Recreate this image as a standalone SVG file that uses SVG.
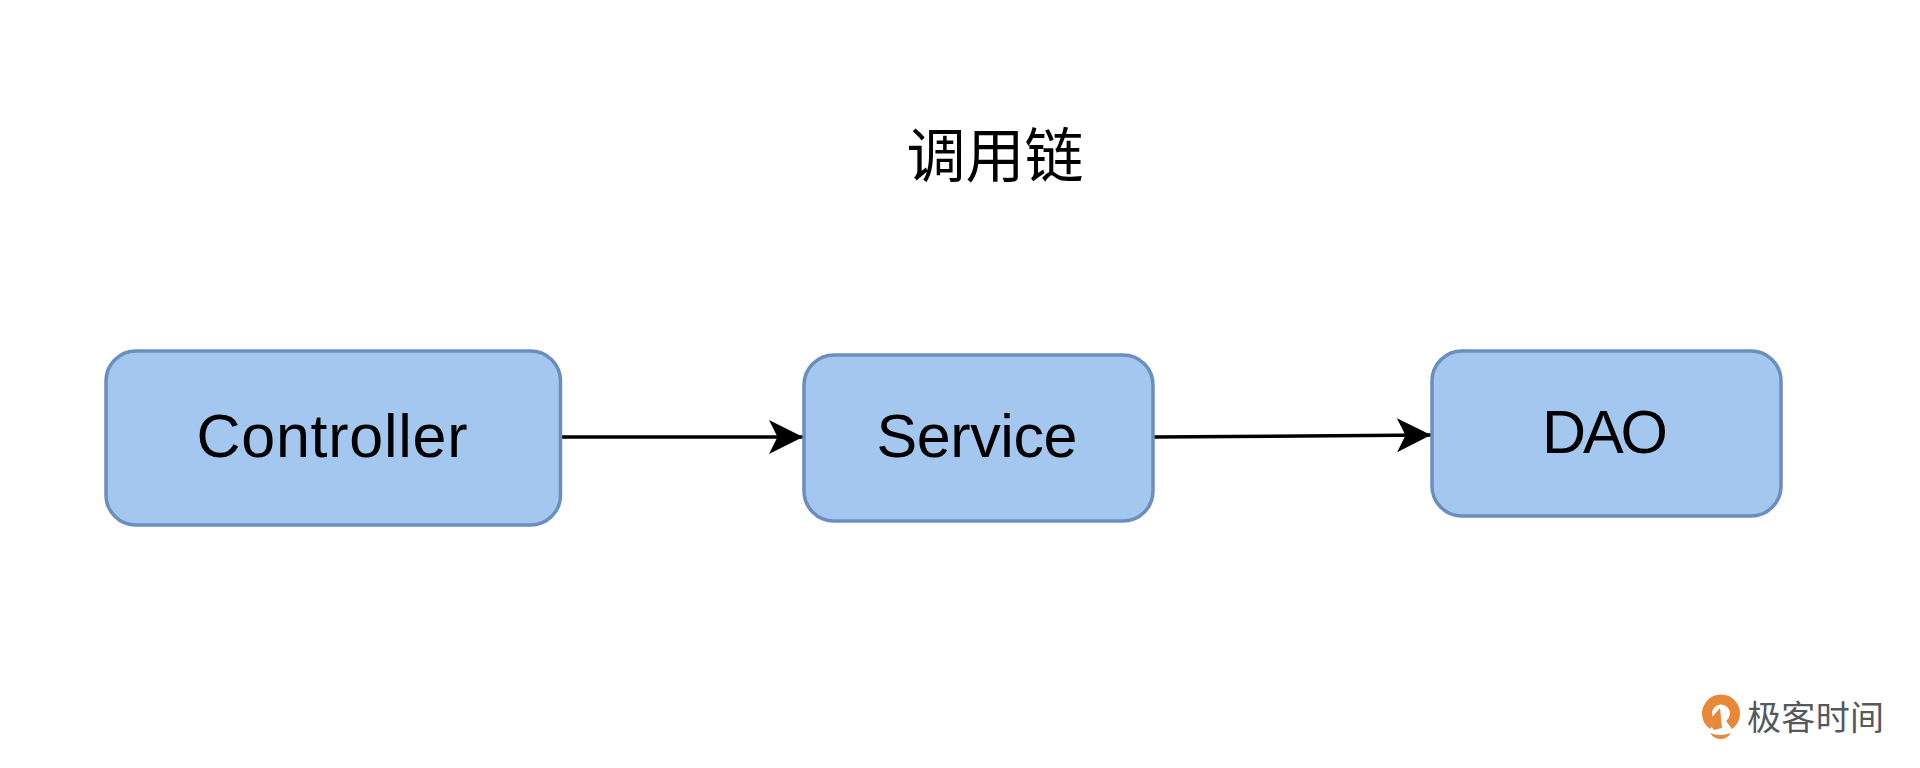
<svg xmlns="http://www.w3.org/2000/svg" width="1920" height="768" viewBox="0 0 1920 768">
<style>
.box{fill:#a4c7ef;stroke:#6c8ebf;stroke-width:3.5}
.lbl{font-family:"Liberation Sans",Arial,sans-serif;font-size:61px;fill:#000;text-anchor:middle}
.ln{fill:none;stroke:#000;stroke-width:3.5}
.ttl{font-family:"Noto Sans CJK SC",sans-serif;font-size:59px;fill:#000;text-anchor:middle}
.logo{font-family:"Noto Sans CJK SC",sans-serif;font-size:34px;fill:#55585c;text-anchor:start}
</style>
<defs>
<marker id="arr" markerUnits="userSpaceOnUse" markerWidth="34" markerHeight="34" refX="32" refY="16" orient="auto" viewBox="0 0 32 32"><path d="M0 0L32 16L0 32L8 16Z" fill="#000"/></marker>
</defs>
<rect width="1920" height="768" fill="#fff"/>
<text class="ttl" x="995" y="177">调用链</text>
<g id="connectors">
<path class="ln" marker-end="url(#arr)" d="M560 437H803"/>
<path class="ln" marker-end="url(#arr)" d="M1153 437L1431 435"/>
</g>
<g id="controller"><rect class="box" x="106" y="351" width="454.500" height="174" rx="30"/><text class="lbl" x="332" y="457" textLength="271" lengthAdjust="spacing">Controller</text></g>
<g id="service"><rect class="box" x="804" y="355" width="349" height="166" rx="30"/><text class="lbl" x="977" y="457" textLength="201" lengthAdjust="spacing">Service</text></g>
<g id="dao"><rect class="box" x="1432" y="351" width="349" height="165" rx="30"/><text class="lbl" x="1605" y="453" textLength="126" lengthAdjust="spacing">DAO</text></g>
<g id="logo">
<path d="M1713 725A14 14 0 1 1 1729 725" fill="none" stroke="#e8893a" stroke-width="10"/>
<path d="M1708 722L1720 708L1722 728L1714 730Z" fill="#e8893a"/>
<path d="M1710 733q10 4 21 0q-4 6-10.500 6t-10.500-6Z" fill="#e8893a"/>
<text class="logo" x="1747" y="730" textLength="137" lengthAdjust="spacing">极客时间</text>
</g>
</svg>
